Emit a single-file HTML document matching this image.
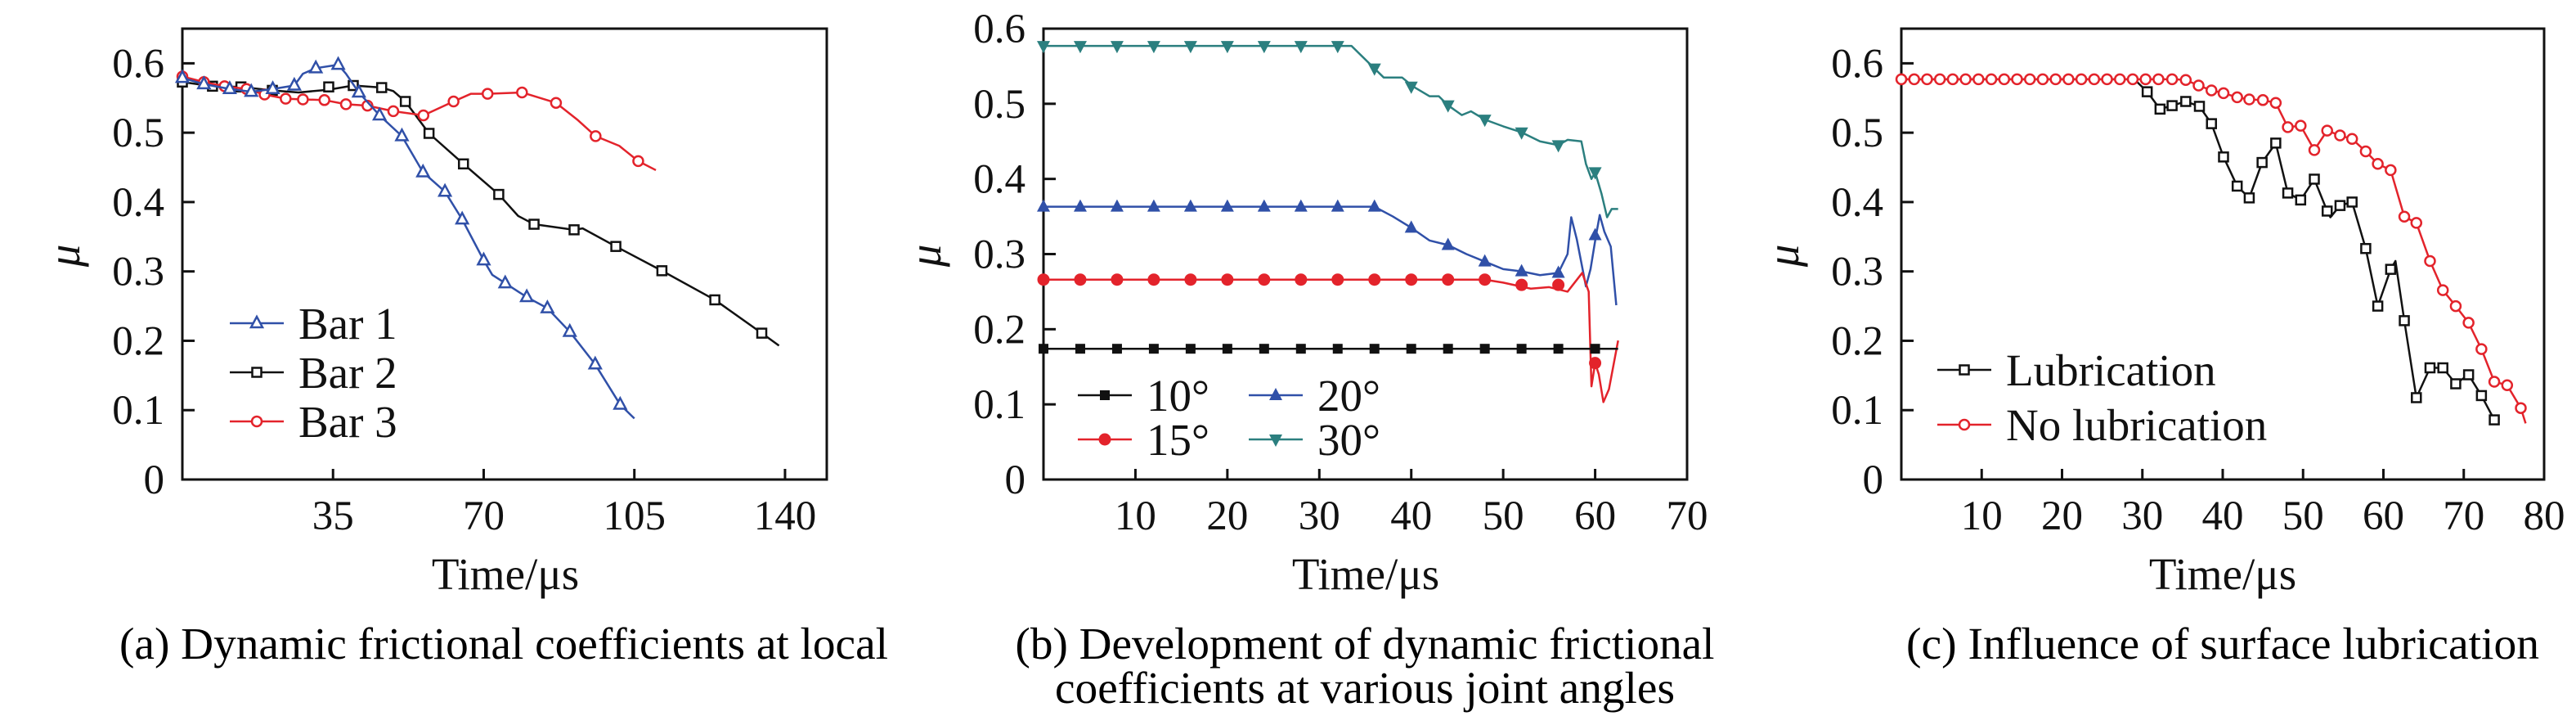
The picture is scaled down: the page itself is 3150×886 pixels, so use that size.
<!DOCTYPE html>
<html><head><meta charset="utf-8"><style>
html,body{margin:0;padding:0;background:#fff;}
svg{display:block;font-family:"Liberation Serif",serif;}
</style></head><body>
<svg id="fig" width="3150" height="886" viewBox="0 0 3150 886" xmlns="http://www.w3.org/2000/svg">
<g id="pa"></g>
<g id="pb"></g>
<g id="pc"></g>
<text x="616" y="805" font-size="55" text-anchor="middle" textLength="940" lengthAdjust="spacingAndGlyphs">(a) Dynamic frictional coefficients at local</text>
<text x="1669" y="805" font-size="55" text-anchor="middle" textLength="855" lengthAdjust="spacingAndGlyphs">(b) Development of dynamic frictional</text>
<text x="1669" y="859" font-size="55" text-anchor="middle" textLength="758" lengthAdjust="spacingAndGlyphs">coefficients at various joint angles</text>
<text x="2718" y="805" font-size="55" text-anchor="middle" textLength="774" lengthAdjust="spacingAndGlyphs">(c) Influence of surface lubrication</text>
</svg>
<script>
// ---------- Panel A data ----------
const aBar1X=[0,5,11,16,21,26,28,31,36.2,38,41,45.8,51,55.9,61,65,70,72,75,80,84.8,90,95.9,101.7,105];
const aBar1Y=[0.579,0.570,0.563,0.559,0.563,0.568,0.585,0.593,0.598,0.585,0.558,0.525,0.495,0.443,0.415,0.375,0.316,0.295,0.283,0.263,0.247,0.213,0.166,0.108,0.088];
const aBar1MX=[0,5,11,16,21,26,31,36.2,41,45.8,51,55.9,61,65,70,75,80,84.8,90,95.9,101.7];
const aBar1MY=[0.579,0.570,0.563,0.559,0.563,0.568,0.593,0.598,0.558,0.525,0.495,0.443,0.415,0.375,0.316,0.283,0.263,0.247,0.213,0.166,0.108];
const aBar2X=[0,7,13.6,20.9,27,34,39.7,46.3,49,51.8,57.3,65.3,73.5,78,81.7,91,93,100.7,111.4,123.7,134.6,138.6];
const aBar2Y=[0.573,0.567,0.566,0.561,0.558,0.562,0.568,0.565,0.56,0.545,0.499,0.455,0.411,0.38,0.368,0.36,0.362,0.336,0.301,0.259,0.211,0.193];
const aBar2MX=[0,7,13.6,20.9,34,39.7,46.3,51.8,57.3,65.3,73.5,81.7,91,100.7,111.4,123.7,134.6];
const aBar2MY=[0.573,0.567,0.566,0.561,0.566,0.568,0.565,0.545,0.499,0.455,0.411,0.368,0.36,0.336,0.301,0.259,0.211];
const aBar3X=[0,5,9.8,14.9,19.1,24,28,33,38,43,49,56,63,67,70.9,78.9,86.8,91.9,96,101.5,105.9,110];
const aBar3Y=[0.581,0.573,0.567,0.563,0.555,0.549,0.548,0.547,0.541,0.539,0.531,0.525,0.545,0.556,0.556,0.558,0.543,0.518,0.495,0.481,0.459,0.446];
const aBar3MX=[0,5,9.8,14.9,19.1,24,28,33,38,43,49,56,63,70.9,78.9,86.8,96,105.9];
const aBar3MY=[0.581,0.573,0.567,0.563,0.555,0.549,0.548,0.547,0.541,0.539,0.531,0.525,0.545,0.556,0.558,0.543,0.495,0.459];
const aXTicks=[35,70,105,140];
const aYTicks=[0,0.1,0.2,0.3,0.4,0.5,0.6];
const aYLabels=["0","0.1","0.2","0.3","0.4","0.5","0.6"];
// ---------- Panel B data ----------
const bMarkX=[0,4,8,12,16,20,24,28,32,36,40,44,48,52,56,60];
const b10X=[0,62.5];
const b10Y=[0.174,0.174];
const b10MY=[0.174,0.174,0.174,0.174,0.174,0.174,0.174,0.174,0.174,0.174,0.174,0.174,0.174,0.174,0.174,0.174];
const b15X=[0,48,50,53,55,57,58.6,59.3,59.6,60,60.4,60.9,61.5,62.5];
const b15Y=[0.266,0.266,0.262,0.254,0.256,0.25,0.275,0.25,0.124,0.155,0.14,0.103,0.12,0.185];
const b15MX=[0,4,8,12,16,20,24,28,32,36,40,44,48,52,56,60];
const b15MY=[0.266,0.266,0.266,0.266,0.266,0.266,0.266,0.266,0.266,0.266,0.266,0.266,0.266,0.259,0.259,0.155];
const b20X=[0,36,38,40,42,44,46,48,50,52,54,56,57,57.4,58,59,59.5,60.1,60.5,61,61.7,62.3];
const b20Y=[0.363,0.363,0.35,0.335,0.318,0.312,0.3,0.29,0.28,0.277,0.272,0.275,0.3,0.349,0.32,0.257,0.28,0.325,0.352,0.33,0.31,0.232];
const b20MX=[0,4,8,12,16,20,24,28,32,36,40,44,48,52,56,60];
const b20MY=[0.363,0.363,0.363,0.363,0.363,0.363,0.363,0.363,0.363,0.363,0.335,0.312,0.29,0.277,0.275,0.325];
const b30X=[0,33.5,36,37,39,40.2,42,43,44,45.5,46.5,48,50,52,54,56,57,58.5,59,59.6,60,60.7,61.3,61.8,62.5];
const b30Y=[0.577,0.577,0.547,0.535,0.535,0.523,0.51,0.51,0.498,0.485,0.49,0.479,0.47,0.462,0.45,0.445,0.452,0.45,0.42,0.40,0.409,0.38,0.349,0.36,0.36];
const b30MX=[0,4,8,12,16,20,24,28,32,36,40,44,48,52,56,60];
const b30MY=[0.577,0.577,0.577,0.577,0.577,0.577,0.577,0.577,0.577,0.547,0.523,0.498,0.479,0.462,0.445,0.409];
const bXTicks=[10,20,30,40,50,60,70];
const bYTicks=[0,0.1,0.2,0.3,0.4,0.5,0.6];
const bYLabels=["0","0.1","0.2","0.3","0.4","0.5","0.6"];
// ---------- Panel C data ----------
const cNoX=[0,34,35.4,37,38.6,40.1,41.8,43.3,45,46.6,48.1,49.7,51.4,53,54.6,56.1,57.8,59.3,60.9,62.6,64.1,65.8,67.4,69,70.6,72.2,73.8,75.4,77.1,77.7];
const cNoY=[0.577,0.577,0.576,0.568,0.561,0.557,0.551,0.548,0.547,0.543,0.508,0.51,0.475,0.503,0.496,0.491,0.473,0.455,0.446,0.379,0.37,0.315,0.273,0.25,0.226,0.188,0.141,0.136,0.103,0.081];
const cNoMX=[0,1.6,3.2,4.8,6.4,8,9.6,11.2,12.8,14.4,16,17.6,19.2,20.8,22.4,24,25.6,27.2,28.8,30.4,32,33.7,35.4,37,38.6,40.1,41.8,43.3,45,46.6,48.1,49.7,51.4,53,54.6,56.1,57.8,59.3,60.9,62.6,64.1,65.8,67.4,69,70.6,72.2,73.8,75.4,77.1];
const cNoMY=[0.577,0.577,0.577,0.577,0.577,0.577,0.577,0.577,0.577,0.577,0.577,0.577,0.577,0.577,0.577,0.577,0.577,0.577,0.577,0.577,0.577,0.577,0.576,0.568,0.561,0.557,0.551,0.548,0.547,0.543,0.508,0.51,0.475,0.503,0.496,0.491,0.473,0.455,0.446,0.379,0.37,0.315,0.273,0.25,0.226,0.188,0.141,0.136,0.103];
const cLubX=[0,29,30.6,32.2,33.7,35.4,37.1,38.6,40.1,41.8,43.3,44.9,46.6,48.1,49.7,51.4,53,53.4,54.6,56.1,57.8,59.3,60.9,61.5,62.6,64.1,65.8,67.4,69,70.6,72.2,73.8,74.3];
const cLubY=[0.577,0.577,0.559,0.534,0.539,0.545,0.538,0.513,0.465,0.423,0.406,0.457,0.485,0.413,0.403,0.433,0.387,0.378,0.395,0.4,0.333,0.25,0.303,0.315,0.229,0.118,0.161,0.161,0.138,0.151,0.121,0.086,0.081];
const cLubMX=[30.6,32.2,33.7,35.4,37.1,38.6,40.1,41.8,43.3,44.9,46.6,48.1,49.7,51.4,53,54.6,56.1,57.8,59.3,60.9,62.6,64.1,65.8,67.4,69,70.6,72.2,73.8];
const cLubMY=[0.559,0.534,0.539,0.545,0.538,0.513,0.465,0.423,0.406,0.457,0.485,0.413,0.403,0.433,0.387,0.395,0.4,0.333,0.25,0.303,0.229,0.118,0.161,0.161,0.138,0.151,0.121,0.086];
const cXTicks=[10,20,30,40,50,60,70,80];
const cYTicks=[0,0.1,0.2,0.3,0.4,0.5,0.6];
const cYLabels=["0","0.1","0.2","0.3","0.4","0.5","0.6"];

const NS="http://www.w3.org/2000/svg";
const BLUE="#3050a8",RED="#e3232b",TEAL="#2b7f7f",BLACK="#111";
function el(tag,attrs,parent){const e=document.createElementNS(NS,tag);for(const k in attrs)e.setAttribute(k,attrs[k]);parent.appendChild(e);return e;}

function axes(g,cfg){
  const sx=v=>cfg.L+(v-cfg.x0)/(cfg.x1-cfg.x0)*(cfg.R-cfg.L);
  const sy=v=>cfg.B-(v-cfg.y0)/(cfg.y1-cfg.y0)*(cfg.B-cfg.T);
  const f=el('rect',{x:cfg.L,y:cfg.T,width:cfg.R-cfg.L,height:cfg.B-cfg.T,fill:'none',stroke:'#111','stroke-width':3},g);
  
  
  cfg.xt.forEach(v=>{
    const x=sx(v);
    const t=el('line',{x1:x,x2:x,y1:cfg.B,y2:cfg.B-13,stroke:'#111','stroke-width':3},g);
    
    
    const l=el('text',{x:x,y:647,'font-size':51,'text-anchor':'middle',fill:'#111'},g);
    l.textContent=String(v);
    
    
  });
  cfg.yt.forEach((v,i)=>{
    const y=sy(v);
    if(v>0&&Math.abs(y-cfg.T)>2){
      const t=el('line',{x1:cfg.L,x2:cfg.L+15,y1:y,y2:y,stroke:'#111','stroke-width':3},g);
      
      
    }
    const l=el('text',{x:cfg.L-22,y:y+17,'font-size':51,'text-anchor':'end',fill:'#111'},g);
    l.textContent=cfg.yl[i];
    
    
  });
  const xt=el('text',{x:cfg.tx,y:720,'font-size':55,'text-anchor':'middle',fill:'#111'},g);
  xt.textContent='Time/μs';
  
  
  const yt=el('text',{x:0,y:0,'font-size':55,'font-style':'italic','text-anchor':'middle',fill:'#111',transform:`translate(${cfg.L-126},${(cfg.T+cfg.B)/2+2}) rotate(-90)`},g);
  yt.textContent='μ';
  
  
  return {sx,sy};
}
function marker(g,type,x,y,color){
  let m;
  if(type==='tri'){m=el('polygon',{points:`${x},${y-8} ${x-7},${y+5} ${x+7},${y+5}`,fill:'#fff',stroke:color,'stroke-width':2.5},g);}
  else if(type==='sq'){m=el('rect',{x:x-5.5,y:y-5.5,width:11,height:11,fill:'#fff',stroke:color,'stroke-width':2.5},g);}
  else if(type==='circ'){m=el('circle',{cx:x,cy:y,r:6,fill:'#fff',stroke:color,'stroke-width':2.5},g);}
  else if(type==='fsq'){m=el('rect',{x:x-6,y:y-6,width:12,height:12,fill:color},g);}
  else if(type==='fcirc'){m=el('circle',{cx:x,cy:y,r:7.5,fill:color},g);}
  else if(type==='ftri'){m=el('polygon',{points:`${x},${y-9} ${x-8},${y+6} ${x+8},${y+6}`,fill:color},g);}
  else if(type==='fdtri'){m=el('polygon',{points:`${x},${y+9} ${x-8},${y-6} ${x+8},${y-6}`,fill:color},g);}
  
  
}
function series(g,s,X,Y,MX,MY,color,type,name){
  const sg=el('g',{},g);
  
  
  const p=el('polyline',{points:X.map((v,i)=>s.sx(v)+','+s.sy(Y[i])).join(' '),fill:'none',stroke:color,'stroke-width':2.5,'stroke-linejoin':'round'},sg);
  
  
  MX.forEach((v,i)=>marker(sg,type,s.sx(v),s.sy(MY[i]),color));
}
function legend(g,x,y,color,type,label,name){
  const lg=el('g',{},g);
  
  
  el('line',{x1:x,x2:x+66,y1:y,y2:y,stroke:color,'stroke-width':2.5},lg);
  marker(lg,type,x+33,y,color);
  const t=el('text',{x:x+84,y:y+19,'font-size':55,fill:'#111'},lg);
  t.textContent=label;
}

// Panel A
const ga=document.getElementById('pa');
const A=axes(ga,{L:223,R:1011,T:35,B:586,x0:0,x1:149.7,y0:0,y1:0.65,xt:aXTicks,yt:aYTicks,yl:aYLabels,tx:618});
series(ga,A,aBar2X,aBar2Y,aBar2MX,aBar2MY,BLACK,'sq','series-bar-2');
series(ga,A,aBar3X,aBar3Y,aBar3MX,aBar3MY,RED,'circ','series-bar-3');
series(ga,A,aBar1X,aBar1Y,aBar1MX,aBar1MY,BLUE,'tri','series-bar-1');
legend(ga,281,395,BLUE,'tri','Bar 1','legend-bar-1');
legend(ga,281,455,BLACK,'sq','Bar 2','legend-bar-2');
legend(ga,281,515,RED,'circ','Bar 3','legend-bar-3');

// Panel B
const gb=document.getElementById('pb');
const B=axes(gb,{L:1276,R:2063,T:35,B:586,x0:0,x1:70,y0:0,y1:0.6,xt:bXTicks,yt:bYTicks,yl:bYLabels,tx:1670});
series(gb,B,b30X,b30Y,b30MX,b30MY,TEAL,'fdtri','series-30deg');
series(gb,B,b20X,b20Y,b20MX,b20MY,BLUE,'ftri','series-20deg');
series(gb,B,b15X,b15Y,b15MX,b15MY,RED,'fcirc','series-15deg');
series(gb,B,b10X,b10Y,bMarkX,b10MY,BLACK,'fsq','series-10deg');
legend(gb,1318,483,BLACK,'fsq','10°','legend-10deg');
legend(gb,1318,537,RED,'fcirc','15°','legend-15deg');
legend(gb,1527,483,BLUE,'ftri','20°','legend-20deg');
legend(gb,1527,537,TEAL,'fdtri','30°','legend-30deg');

// Panel C
const gc=document.getElementById('pc');
const C=axes(gc,{L:2325,R:3111,T:35,B:586,x0:0,x1:80,y0:0,y1:0.65,xt:cXTicks,yt:cYTicks,yl:cYLabels,tx:2718});
series(gc,C,cLubX,cLubY,cLubMX,cLubMY,BLACK,'sq','series-lubrication');
series(gc,C,cNoX,cNoY,cNoMX,cNoMY,RED,'circ','series-no-lubrication');
legend(gc,2369,452,BLACK,'sq','Lubrication','legend-lubrication');
legend(gc,2369,519,RED,'circ','No lubrication','legend-no-lubrication');
</script>
</body></html>
